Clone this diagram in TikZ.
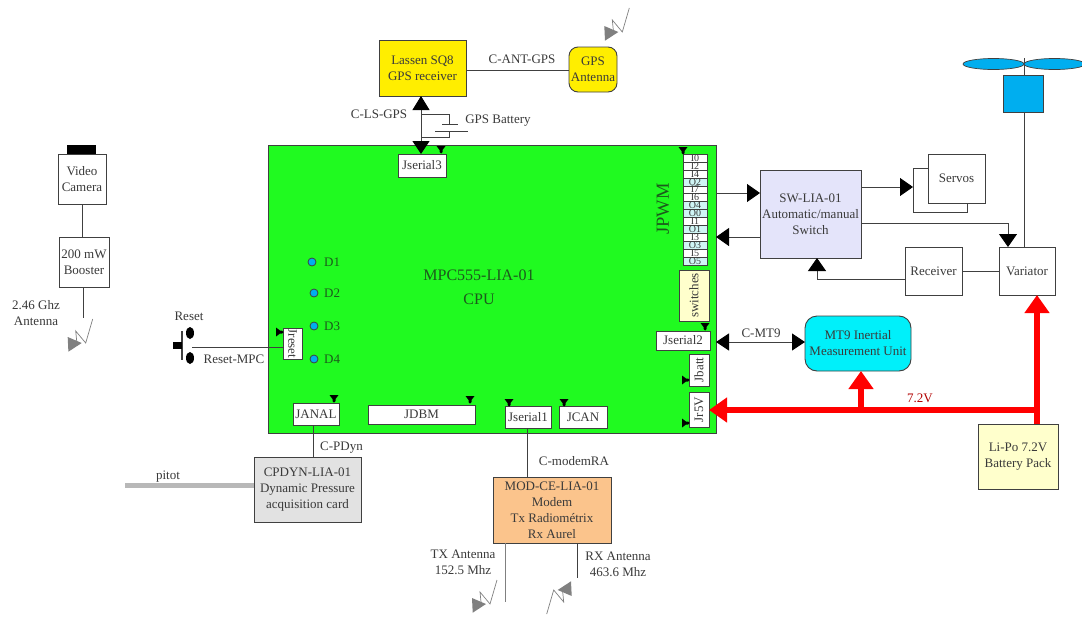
\documentclass[tikz,border=0pt]{standalone}
\usepackage{fontspec}
\usepackage{graphicx}
\setmainfont{Liberation Serif}
\usetikzlibrary{arrows.meta}
\definecolor{linec}{HTML}{404040}
\definecolor{textc}{HTML}{3A3A3A}
\definecolor{boardc}{HTML}{20FA20}
\definecolor{yellowc}{HTML}{FFEE00}
\definecolor{bluec}{HTML}{00AEEF}
\definecolor{cyanc}{HTML}{00F0FA}
\definecolor{lavc}{HTML}{E4E4FA}
\definecolor{creamc}{HTML}{FFFFCC}
\definecolor{orangec}{HTML}{FBC48C}
\definecolor{greyc}{HTML}{E2E2E2}
\definecolor{cellc}{HTML}{CFF5F5}
\definecolor{ongreen}{HTML}{1C5A1C}
\definecolor{antc}{HTML}{808080}
\newcommand{\bx}[7][]{%
  \node[boxs,#1,minimum width={(#4-#2)*1pt},minimum height={(#5-#3)*1pt},fill=#6]
    (#7) at ({(#2+#4)/2},{(#3+#5)/2})}
\newcommand{\conmark}[3]{\fill[black,shift={(#1,#2)},rotate=#3]
  (-4.5,-3) -- (4.5,-3) -- (1.5,1) -- (1.5,3) -- (0,4.5) -- (-1.5,3) -- (-1.5,1) -- cycle;}
\newcommand{\antsym}[3]{%
  \begin{scope}[shift={(#1,#2)},rotate=#3]
    \fill[antc] (0,0) -- (0.7,14.7) -- (14,6) -- cycle;
    \draw[antc,line width=0.7pt] (9,4) -- (8,-6) -- (18,6) -- (25,-18);
  \end{scope}}
\tikzset{
  boxs/.style={draw=linec,line width=0.9pt,inner sep=0pt,outer sep=0pt,align=center,
    text=textc,font=\fontsize{13}{16}\selectfont},
  lab/.style={inner sep=0pt,text=textc,align=center,font=\fontsize{13}{16}\selectfont},
  wire/.style={draw=linec,line width=0.9pt},
  bigtip/.style={-{Triangle[length=13pt,width=18pt,color=black,fill=black]},draw=linec,line width=0.9pt},
  powerline/.style={draw=red,line width=6pt},
  powertip/.style={powerline,-{Triangle[length=18pt,width=24pt]}},
  cellb/.style={draw=linec,line width=0.5pt,inner sep=0pt,outer sep=0pt,minimum width=24pt,
    minimum height=7.93pt,text=textc,font=\fontsize{10}{10}\selectfont}
}
\begin{document}
\begin{tikzpicture}[x=1pt,y=-1pt]
\useasboundingbox (0,0) rectangle (1082,616);
\fill[white] (0,0) rectangle (1082,616);
% board
\bx{268}{145}{716}{433}{boardc}{board} {};
\node[lab,text=ongreen,font=\fontsize{16}{24}\selectfont] (cpu) at (479,287) {MPC555-LIA-01\\CPU};
\node[lab,text=ongreen,font=\fontsize{18.5}{20}\selectfont,rotate=90] (jpwm) at (663,209) {JPWM};
% connectors on board
\bx{398}{154}{446}{177}{white}{js3} {Jserial3};
\bx{656}{331}{710}{350}{white}{js2} {Jserial2};
\bx{505}{406}{551}{428}{white}{js1} {Jserial1};
\bx{559}{406}{607}{428}{white}{jcan} {JCAN};
\bx{293}{403}{339}{425}{white}{janal} {JANAL};
\bx{368}{405}{475}{424}{white}{jdbm} {JDBM};
\bx{689}{354}{709}{386}{white}{jbatt} {\rotatebox{90}{Jbatt}};
\bx{689}{392}{709}{427}{white}{jr5v} {\rotatebox{90}{Jr5V}};
\bx{283}{328}{302}{359}{white}{jreset} {\rotatebox{-90}{Jreset}};
\bx{679}{270}{709}{321}{creamc}{switches} {\rotatebox{90}{switches}};
% PWM strip
\foreach \n/\t/\c [count=\i from 0] in {a/I0/white,b/I2/white,c/I4/white,d/O2/cellc,e/I7/white,f/I6/white,g/O4/cellc,h/O0/cellc,k/I1/white,l/O1/cellc,m/I3/white,n/O3/cellc,o/I5/white,p/O5/cellc}
  \node[cellb,fill=\c] (pwm\n) at (695,{158+\i*7.93}) {\t};
% markers
\conmark{441}{149}{0}
\conmark{683}{150}{0}
\conmark{705}{326}{0}
\conmark{685}{380}{90}
\conmark{685}{423}{90}
\conmark{279}{332}{90}
\conmark{334}{398}{0}
\conmark{470}{399}{0}
\conmark{509}{402}{0}
\conmark{564}{402}{0}
% LEDs
\foreach \n/\x/\y in {1/312/262,2/314/293,3/314/326,4/314/359}{
  \node[circle,draw=linec,line width=0.8pt,fill=bluec,minimum size=8pt,inner sep=0pt] (led\n) at (\x,\y) {};
  \node[lab,text=ongreen,anchor=west] (dl\n) at (324,\y) {D\n};
}
% GPS
\bx{379}{40}{466}{96}{yellowc}{gps} {Lassen SQ8\\GPS receiver};
\bx[rounded corners=9pt]{569}{47}{617}{92}{yellowc}{gpsant} {GPS\\Antenna};
\coordinate (gpsline) at (0,70);
\draw[wire] (gps.east |- gpsline) -- (gpsant.west |- gpsline);
\node[lab] (cantgps) at (522,59) {C-ANT-GPS};
\antsym{604.3}{26}{0}
\coordinate (lsx) at (421,0);
\draw[wire,{Triangle[length=14pt,width=17pt,color=black,fill=black]}-{Triangle[length=13pt,width=17pt,color=black,fill=black]}] (gps.south -| lsx) -- (js3.north -| lsx);
\node[lab] (clsgps) at (379,114) {C-LS-GPS};
\coordinate (batt1) at (449,124);
\coordinate (batt2) at (449,131);
\draw[wire] (421,114) -- (449,114) -- (batt1);
\draw[wire] (442,124) -- (458,124);
\draw[wire] (435,131) -- (468,131);
\draw[wire] (batt2) -- (449,137) -- (421,137);
\node[lab] (gpsbatt) at (498,121) {GPS Battery};
% camera
\fill[black] (67,145) rectangle (96,154);
\bx{58}{154}{106}{204}{white}{cam} {Video\\Camera};
\bx{59}{237}{109}{287}{white}{boost} {200 mW\\Booster};
\coordinate (camx) at (82,0);
\draw[wire] (cam.south -| camx) -- (boost.north -| camx);
\coordinate (antb) at (83,318);
\draw[wire] (boost.south -| antb) -- (antb);
\node[lab] (l246) at (36,313) {2.46 Ghz\\Antenna};
\antsym{67.7}{337}{0}
% reset
\draw[wire,line width=1.2pt] (182,331) -- (182,360);
\fill[black] (173,342) rectangle (182,349);
\fill[black] (190,333) ellipse [x radius=4,y radius=6];
\fill[black] (190,358) ellipse [x radius=4,y radius=6];
\coordinate (resetpt) at (192,347);
\draw[wire] (resetpt) -- (jreset.west |- resetpt);
\node[lab] (lreset) at (189,316) {Reset};
\node[lab] (lresetmpc) at (234,359) {Reset-MPC};
% CPDYN
\bx{254}{457}{361}{522}{greyc}{cpdyn} {CPDYN-LIA-01\\Dynamic Pressure\\acquisition card};
\coordinate (cpx) at (313,0);
\draw[wire] (janal.south -| cpx) -- (cpdyn.north -| cpx);
\node[lab,anchor=west] (cpdynl) at (320,448) {C-PDyn};
\coordinate (pitotend) at (125,485);
\draw[draw=black!28,line width=5pt] (pitotend) -- (cpdyn.west |- pitotend);
\node[lab] (pitotl) at (168,477) {pitot};
% modem
\bx{493}{477}{611}{543}{orangec}{modem} {MOD-CE-LIA-01\\Modem\\Tx Radiométrix\\Rx Aurel};
\coordinate (mx) at (527,0);
\draw[wire] (js1.south -| mx) -- (modem.north -| mx);
\node[lab] (cmodem) at (574,461) {C-modemRA};
\coordinate (txend) at (505,602);
\coordinate (rxend) at (577,578);
\draw[wire,draw=antc] (modem.south -| txend) -- (txend);
\draw[wire] (modem.south -| rxend) -- (rxend);
\node[lab] (txl) at (463,562) {TX Antenna\\152.5 Mhz};
\node[lab] (rxl) at (618,564) {RX Antenna\\463.6 Mhz};
\antsym{472}{598}{0}
\antsym{571.7}{596}{180}
% switch etc
\bx{760}{170}{861}{258}{lavc}{sw} {SW-LIA-01\\Automatic/manual\\Switch};
\bx{913}{168}{967}{212}{white}{servob} {};
\bx{928}{154}{985}{203}{white}{servos} {Servos};
\bx{905}{247}{962}{295}{white}{recv} {Receiver};
\bx{999}{247}{1055}{295}{white}{vari} {Variator};
\draw[bigtip] (board.east |- 0,193) -- (sw.west |- 0,193);
\draw[bigtip] (sw.west |- 0,237) -- (board.east |- 0,237);
\draw[bigtip] (sw.east |- 0,187) -- (servob.west |- 0,187);
\coordinate (v1) at (1008,223);
\draw[bigtip] (sw.east |- v1) -- (v1) -- (vari.north -| v1);
\coordinate (r1) at (817,279);
\draw[bigtip] (recv.west |- r1) -- (r1) -- (sw.south -| r1);
\draw[wire] (recv.east) -- (vari.west);
% rotor
\coordinate (masttop) at (1024,58);
\bx{1003}{75}{1043}{112}{bluec}{motor} {};
\draw[wire] (vari.north -| masttop) -- (motor.south -| masttop);
\draw[wire] (motor.north -| masttop) -- (masttop);
\draw[draw=linec,line width=0.7pt,fill=bluec] (993.5,64) ellipse [x radius=30.5,y radius=5.5];
\draw[draw=linec,line width=0.7pt,fill=bluec] (1054.5,64) ellipse [x radius=30.5,y radius=5.5];
% MT9
\bx[rounded corners=12pt]{805}{316}{911}{371}{cyanc}{mt9} {MT9 Inertial\\Measurement Unit};
\draw[wire,{Triangle[length=13pt,width=17pt,color=black,fill=black]}-{Triangle[length=13pt,width=17pt,color=black,fill=black]}] (js2.east |- 0,342) ++(6,0) -- (mt9.west |- 0,342);
\node[lab] (cmt9) at (761,333) {C-MT9};
% power
\bx{978}{424}{1058}{489}{creamc}{lipo} {Li-Po 7.2V\\Battery Pack};
\coordinate (j1) at (1037,410);
\coordinate (j2) at (861,410);
\draw[powertip] (lipo.north -| j1) -- (vari.south -| j1);
\draw[powertip] (j1) -- (jr5v.east |- j1);
\draw[powertip] (j2) -- (mt9.south -| j2);
\node[lab,text=red!70!black] (v72) at (920,398) {7.2V};
\end{tikzpicture}
\end{document}
